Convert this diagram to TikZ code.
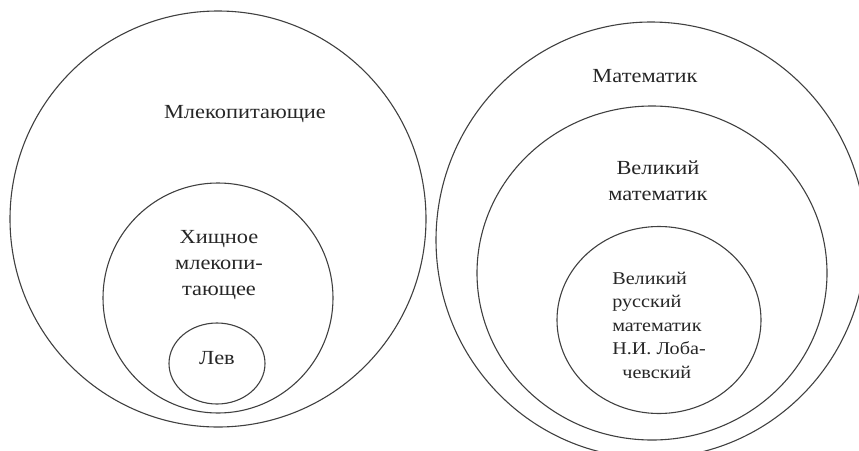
\documentclass[tikz,border=0pt]{standalone}
\usepackage{fontspec}
\setmainfont{Liberation Serif}
\newfontfamily\widefont[FakeStretch=1.12]{Liberation Serif}
\usepackage{tikz}
\usetikzlibrary{shapes.geometric}

\begin{document}
\begin{tikzpicture}[x=1pt, y=-1pt, semithick]
\tikzstyle{ring}=[draw=black!75, line width=1.1pt, ellipse, inner sep=0pt, outer sep=0pt]
\tikzstyle{setname}=[text=black!85, inner sep=0pt, align=center, font=\widefont\fontsize{20}{26}\selectfont]
\clip (0,0) rectangle (859,450);

% left: mammals
\node[ring, minimum width=416pt, minimum height=416pt] (M) at (218,219) {};
\node[ring, minimum width=230pt, minimum height=230pt] (H) at (218,298) {};
\node[ring, minimum width=96pt, minimum height=81pt] (L) at (217,363.5) {};
\node[setname] (MT) at (245,114) {Млекопитающие};
\node[setname] (HT) at (219,265) {Хищное\\млекопи-\\тающее};
\node[setname] (LT) at (217,358) {Лев};

% right: mathematicians
\node[ring, minimum width=430pt, minimum height=436pt] (A) at (651,240) {};
\node[ring, minimum width=350pt, minimum height=334pt] (B) at (652,273) {};
\node[ring, minimum width=204pt, minimum height=187pt] (C) at (659,320) {};
\node[setname] (AT) at (645,76) {Математик};
\node[setname] (BT) at (658,181) {Великий\\математик};
\node[setname, align=left, font=\widefont\fontsize{18}{23.5}\selectfont, anchor=west] (CT) at (612,325) {Великий\\русский\\математик\\Н.И. Лоба-\\\ \ чевский};
\end{tikzpicture}
\end{document}
